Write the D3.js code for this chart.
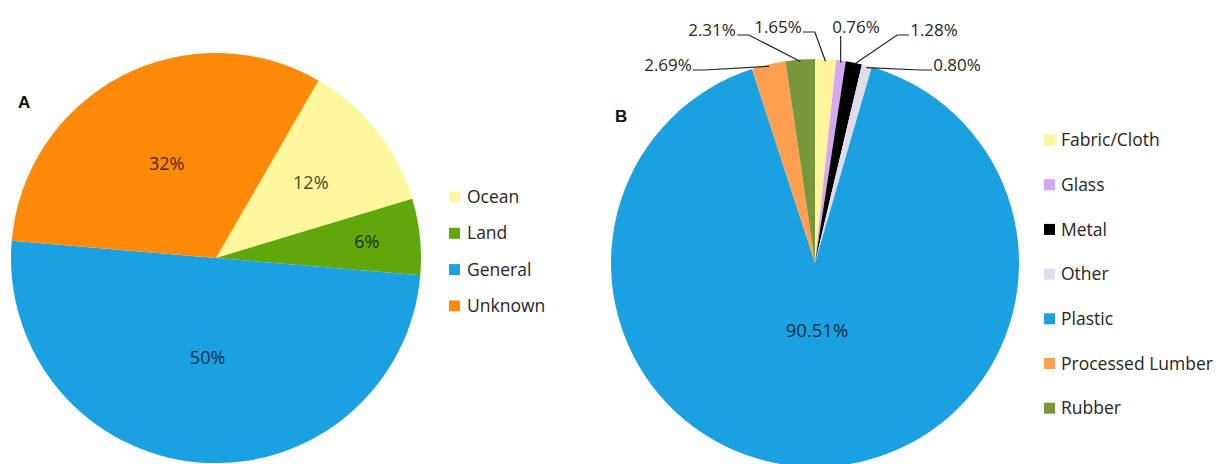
<!DOCTYPE html>
<html>
<head>
<meta charset="utf-8">
<script src="https://cdn.jsdelivr.net/npm/d3@7"></script>
<style>
  body { margin: 0; background: #fff; }
</style>
</head>
<body>
<script>
// data for panel A (source of debris)
const sourceNames = ["Ocean", "Land", "General", "Unknown"];
const sourceValues = [12, 6, 50, 32];
const sourceColors = ["#fff79e", "#5fa70b", "#1ba1e2", "#ff8a0a"];

// data for panel B (material types)
const materialNames = ["Fabric/Cloth", "Glass", "Metal", "Other", "Plastic", "Processed Lumber", "Rubber"];
const materialValues = [1.65, 0.76, 1.28, 0.80, 90.51, 2.69, 2.31];
const materialColors = ["#fff59e", "#d7a8f2", "#000000", "#e0dcea", "#1ba1e2", "#ff9f4f", "#78973a"];

// layout for labels (not data)
const sourceLabelRadius = [0.59, 0.74, 0.49, 0.52];
// label offsets from the pie centre, and where the leader leaves the text
const materialLabelPos = [
  { dx: -37, dy: -230, side: "right" },
  { dx: 41, dy: -230, side: "below" },
  { dx: 119, dy: -227, side: "left" },
  { dx: 142, dy: -192, side: "left" },
  null,
  { dx: -147, dy: -192, side: "right" },
  { dx: -103, dy: -227, side: "right" }
];

const font = "'Open Sans', sans-serif";
const textCol = "#262626";

const svg = d3
  .select("body")
  .append("svg")
  .attr("width", 1219)
  .attr("height", 464)
  .style("font-family", font);

const deg = Math.PI / 180;

// ---------- Panel A ----------
const rA = 205;
const gA = svg.append("g").attr("transform", "translate(216,258)");

const pieA = d3.pie().sort(null).startAngle(30 * deg).endAngle(390 * deg);
const arcA = d3.arc().innerRadius(0).outerRadius(rA);
const slicesA = pieA(sourceValues);

gA.selectAll("path")
  .data(slicesA)
  .enter()
  .append("path")
  .attr("d", arcA)
  .attr("fill", (d, i) => sourceColors[i]);

gA.selectAll("text.lbl")
  .data(slicesA)
  .enter()
  .append("text")
  .attr("class", "lbl")
  .attr("transform", (d, i) => {
    const a = d3.arc().innerRadius(rA * sourceLabelRadius[i]).outerRadius(rA * sourceLabelRadius[i]);
    return "translate(" + a.centroid(d) + ")";
  })
  .attr("text-anchor", "middle")
  .attr("dy", "0.35em")
  .attr("font-size", 18)
  .attr("fill", (d, i) => d3.color(sourceColors[i]).darker(3.4))
  .text(d => d.data + "%");

svg.append("text")
  .attr("x", 18)
  .attr("y", 108)
  .attr("font-size", 17)
  .attr("font-weight", "bold")
  .style("font-family", "'Liberation Sans', Arial, sans-serif")
  .attr("fill", "#111")
  .text("A");

// legend A
const legA = svg.append("g").attr("transform", "translate(449,197)");
const itemA = legA.selectAll("g")
  .data(sourceNames)
  .enter()
  .append("g")
  .attr("transform", (d, i) => "translate(0," + i * 36.3 + ")");
itemA.append("rect")
  .attr("x", 0).attr("y", -5.5)
  .attr("width", 11).attr("height", 11)
  .attr("fill", (d, i) => sourceColors[i]);
itemA.append("text")
  .attr("x", 18)
  .attr("dy", "0.35em")
  .attr("font-size", 17.5)
  .attr("fill", textCol)
  .text(d => d);

// ---------- Panel B ----------
const rB = 204;
const cxB = 815, cyB = 263;
const gB = svg.append("g").attr("transform", "translate(" + cxB + "," + cyB + ")");

const pieB = d3.pie().sort(null);
const arcB = d3.arc().innerRadius(0).outerRadius(rB);
const edgeB = d3.arc().innerRadius(rB - 2).outerRadius(rB - 2);
const slicesB = pieB(materialValues);

gB.selectAll("path")
  .data(slicesB)
  .enter()
  .append("path")
  .attr("d", arcB)
  .attr("fill", (d, i) => materialColors[i]);

// the big plastic label inside
gB.append("text")
  .attr("x", 2)
  .attr("y", 68)
  .attr("text-anchor", "middle")
  .attr("dy", "0.35em")
  .attr("font-size", 18.5)
  .attr("fill", d3.color(materialColors[4]).darker(3.4))
  .text(materialValues[4].toFixed(2) + "%");

// small slices get labels outside with leader lines
slicesB.forEach((d, i) => {
  const p = materialLabelPos[i];
  if (!p) return;
  const t = gB.append("text")
    .attr("x", p.dx)
    .attr("y", p.dy)
    .attr("text-anchor", "middle")
    .attr("font-size", 17)
    .attr("fill", textCol)
    .text(materialValues[i].toFixed(2) + "%");
  const w = t.node().getComputedTextLength();
  const end = edgeB.centroid(d);
  let pts;
  if (p.side === "right") {
    const sx = p.dx + w / 2 + 1;
    pts = [[sx, p.dy - 1], [sx + 12, p.dy - 1], end];
  } else if (p.side === "left") {
    const sx = p.dx - w / 2 - 1;
    pts = [[sx, p.dy - 1], [sx - 12, p.dy - 1], end];
  } else {
    pts = [[end[0], p.dy + 3], end];
  }
  gB.append("path")
    .attr("d", d3.line()(pts))
    .attr("fill", "none")
    .attr("stroke", "#222")
    .attr("stroke-width", 1.2);
});

svg.append("text")
  .attr("x", 615)
  .attr("y", 122)
  .attr("font-size", 17)
  .attr("font-weight", "bold")
  .style("font-family", "'Liberation Sans', Arial, sans-serif")
  .attr("fill", "#111")
  .text("B");

// legend B
const legB = svg.append("g").attr("transform", "translate(1044,140)");
const itemB = legB.selectAll("g")
  .data(materialNames)
  .enter()
  .append("g")
  .attr("transform", (d, i) => "translate(0," + i * 44.7 + ")");
itemB.append("rect")
  .attr("x", 0).attr("y", -5.5)
  .attr("width", 11).attr("height", 11)
  .attr("fill", (d, i) => materialColors[i]);
itemB.append("text")
  .attr("x", 17)
  .attr("dy", "0.35em")
  .attr("font-size", 17.5)
  .attr("fill", textCol)
  .text(d => d);
</script>
</body>
</html>
